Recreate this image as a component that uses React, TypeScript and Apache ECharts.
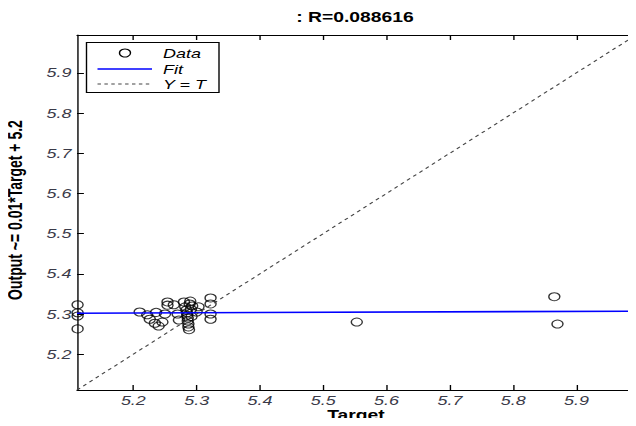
import { useEffect, useRef } from "react";
import * as echarts from "echarts";

// Regression of network output against target
const targets = [
  5.112, 5.112, 5.112, 5.112,
  5.21, 5.222, 5.226, 5.234, 5.236, 5.24, 5.246, 5.25, 5.254, 5.254, 5.264,
  5.27, 5.272, 5.28, 5.282, 5.284, 5.285, 5.285, 5.286, 5.286, 5.287, 5.287,
  5.288, 5.289, 5.29, 5.291, 5.292, 5.293, 5.3, 5.303,
  5.322, 5.322, 5.322, 5.322,
  5.553, 5.865, 5.87,
];
const outputs = [
  5.323, 5.303, 5.295, 5.263,
  5.305, 5.298, 5.287, 5.277, 5.304, 5.27, 5.28, 5.3, 5.33, 5.322, 5.323,
  5.3, 5.285, 5.33, 5.318, 5.31, 5.303, 5.297, 5.29, 5.283, 5.275, 5.268,
  5.261, 5.325, 5.332, 5.312, 5.294, 5.32, 5.305, 5.318,
  5.34, 5.325, 5.3, 5.287,
  5.28, 5.343, 5.275,
];
const fitTargets = [5.111, 5.994];
const fitOutputs = [5.302, 5.307];
const tickValues = [5.2, 5.3, 5.4, 5.5, 5.6, 5.7, 5.8, 5.9];
const axisMin = 5.111;
const axisMax = 5.994;

const titleText = ": R=0.088616";
const xName = "Target";
const yName = "Output ~= 0.01*Target + 5.2";
const legendNames = ["Data", "Fit", "Y = T"];

// The figure is drawn on a narrower canvas and stretched horizontally,
// the way the exported figure was resized.
const CANVAS_W = 461;
const CANVAS_H = 426;
const STRETCH = 636 / CANVAS_W;
const sx = (x: number) => x / STRETCH;

const tickColor = "#3a3a48";
const font = "Arial, 'Liberation Sans', sans-serif";

function makeAxis(position: string, showLabels: boolean, margin: number) {
  return {
    type: "value",
    position,
    min: axisMin,
    max: axisMax,
    axisLine: { show: true, onZero: false, lineStyle: { color: "#000", width: 1 } },
    axisTick: {
      show: true,
      inside: true,
      length: 5,
      customValues: tickValues,
      lineStyle: { color: "#000", width: 1 },
    },
    axisLabel: {
      show: showLabels,
      customValues: tickValues,
      formatter: (v: number) => v.toFixed(1),
      color: tickColor,
      fontFamily: font,
      fontStyle: "italic",
      fontSize: 13,
      lineHeight: 13,
      margin,
    },
    splitLine: { show: false },
  };
}

export default function App() {
  const ref = useRef<HTMLDivElement>(null);

  useEffect(() => {
    if (!ref.current) return;
    const chart = echarts.init(ref.current, null, { renderer: "svg" });

    const legendX = sx(86.5);
    const legendY = 42.5;
    const rowY = [53, 69, 84];

    chart.setOption({
      animation: false,
      backgroundColor: "#fff",
      grid: { left: sx(77), top: 35, width: sx(568), height: 355 },
      xAxis: [makeAxis("bottom", true, 4), makeAxis("top", false, 4)],
      yAxis: [makeAxis("left", true, 4), makeAxis("right", false, 4)],
      series: [
        {
          type: "scatter",
          data: targets.map((t, i) => [t, outputs[i]]),
          symbol: "circle",
          symbolSize: 8,
          itemStyle: { color: "rgba(0,0,0,0)", borderColor: "#000", borderWidth: 1 },
          z: 2,
        },
        {
          type: "line",
          data: fitTargets.map((t, i) => [t, fitOutputs[i]]),
          showSymbol: false,
          symbol: "none",
          lineStyle: { color: "#0000ff", width: 1.6 },
          z: 3,
        },
        {
          type: "line",
          data: [
            [axisMin, axisMin],
            [axisMax, axisMax],
          ],
          showSymbol: false,
          symbol: "none",
          lineStyle: { color: "#444", width: 1, type: [3, 3] },
          z: 4,
        },
      ],
      graphic: [
        {
          type: "text",
          x: sx(355),
          y: 10,
          style: {
            text: titleText,
            font: `bold 14px ${font}`,
            fill: "#000",
            align: "center",
            verticalAlign: "top",
          },
        },
        {
          type: "text",
          x: sx(356),
          y: 408,
          style: {
            text: xName,
            font: `bold 14px ${font}`,
            lineHeight: 14,
            fill: "#000",
            align: "center",
            verticalAlign: "top",
          },
        },
        {
          type: "text",
          x: sx(16),
          y: 210,
          rotation: Math.PI / 2,
          style: {
            text: yName,
            font: `bold 14px ${font}`,
            fill: "#000",
            align: "center",
            verticalAlign: "middle",
          },
        },
        {
          type: "rect",
          shape: { x: legendX, y: legendY, width: sx(132.5), height: 50 },
          style: { fill: "#fff", stroke: "#000", lineWidth: 1 },
          z: 10,
        },
        {
          type: "circle",
          shape: { cx: sx(125), cy: rowY[0], r: 4 },
          style: { fill: "none", stroke: "#000", lineWidth: 1 },
          z: 11,
        },
        {
          type: "line",
          shape: { x1: sx(97.5), y1: rowY[1], x2: sx(152), y2: rowY[1] },
          style: { stroke: "#0000ff", lineWidth: 1.6 },
          z: 11,
        },
        {
          type: "line",
          shape: { x1: sx(97.5), y1: rowY[2], x2: sx(152), y2: rowY[2] },
          style: { stroke: "#444", lineWidth: 1, lineDash: [2.5, 2.5] },
          z: 11,
        },
        ...legendNames.map((name, i) => ({
          type: "text",
          x: sx(163),
          y: rowY[i],
          z: 11,
          style: {
            text: name,
            font: `italic 13px ${font}`,
            fill: "#000",
            verticalAlign: "middle",
          },
        })),
      ],
    });

    return () => chart.dispose();
  }, []);

  return (
    <div
      ref={ref}
      style={{
        width: CANVAS_W,
        height: CANVAS_H,
        margin: -8,
        transform: `scaleX(${STRETCH})`,
        transformOrigin: "0 0",
      }}
    />
  );
}
